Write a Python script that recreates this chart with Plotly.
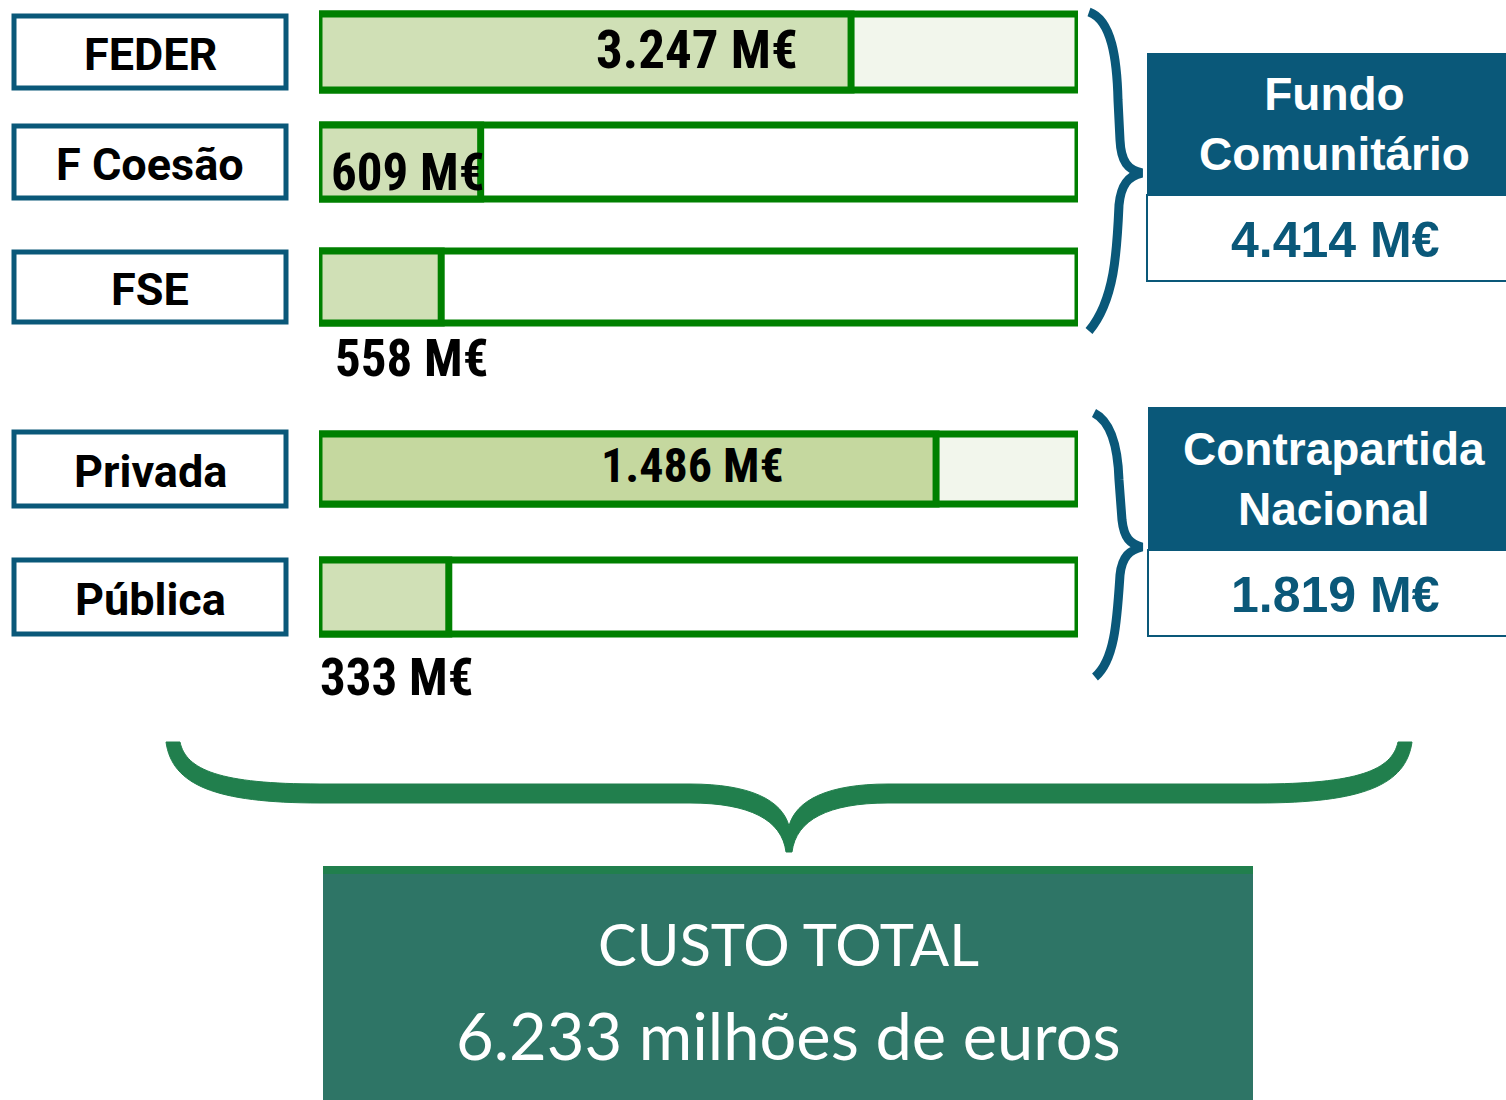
import plotly.graph_objects as go

# ---------------- data ----------------
categories = ["FEDER", "F Coesão", "FSE", "Privada", "Pública"]
values_meur = [3247, 609, 558, 1486, 333]
value_labels = ["3.247 M€", "609 M€", "558 M€", "1.486 M€", "333 M€"]
# share of each bar drawn as filled (%)
fill_share_pct = [70.1, 21.3, 16.1, 81.3, 17.1]
group_names = ["Fundo<br>Comunitário", "Contrapartida<br>Nacional"]
group_totals = ["4.414 M€", "1.819 M€"]
total_title = "CUSTO TOTAL"
total_text = "6.233 milhões de euros"

# ---------------- styles / layout constants ----------------
W, H = 1506, 1100
BLUE = "#0a5879"
GREEN = "#008000"
DKGREEN = "#217f4d"
TEAL = "#2e7566"
row_y = [52, 162, 287, 469, 597]
row_h = [76, 74, 72, 70, 74]
bar_bg = ["#f2f6ec", "#ffffff", "#ffffff", "#f2f6ec", "#ffffff"]
bar_fill = ["#d0e0b6", "#d0e0b6", "#d0e0b6", "#c5d89f", "#d0e0b6"]
BAR_X0, BAR_X1 = 319, 1078

fig = go.Figure()
fig.add_trace(go.Scatter(x=[], y=[], xaxis="x", yaxis="y", showlegend=False))

# background (full) bars
fig.add_trace(go.Bar(
    y=row_y, x=[100] * len(categories), width=row_h, orientation="h",
    xaxis="x2", yaxis="y",
    marker=dict(color=bar_bg, line=dict(color=GREEN, width=7)),
    hoverinfo="skip", showlegend=False))
# filled portion
fig.add_trace(go.Bar(
    y=row_y, x=fill_share_pct, width=row_h, orientation="h",
    xaxis="x2", yaxis="y", customdata=values_meur,
    marker=dict(color=bar_fill, line=dict(color=GREEN, width=7)),
    hovertemplate="%{customdata} M€<extra></extra>", showlegend=False))

shapes = []
ann = []

# left label boxes
for cat, yc, h in zip(categories, row_y, [76, 76, 74, 78, 78]):
    shapes.append(dict(type="rect", xref="x", yref="y", x0=14, x1=286,
                       y0=yc - h / 2 + 2, y1=yc + h / 2 - 2,
                       line=dict(color=BLUE, width=5), fillcolor="white"))
    ann.append(dict(x=150, y=yc + 2, xref="x", yref="y", text=f"<b>{cat}</b>",
                    showarrow=False, font=dict(family="Roboto", size=45, color="black"),
                    xanchor="center", yanchor="middle"))

# value labels
val_sizes = [53, 51, 51, 48, 51]
label_pos = [(697, 50, "center"), (329, 172, "left"), (333, 358, "left"),
             (692, 465, "center"), (318, 677, "left")]
for txt, sz, (lx, ly, anc) in zip(value_labels, val_sizes, label_pos):
    ann.append(dict(x=lx, y=ly, xref="x", yref="y", text=f"<b>{txt}</b>", showarrow=False,
                    font=dict(family="Liberation Sans Narrow, Roboto Condensed, Roboto",
                              size=sz, color="black"),
                    xanchor=anc, yanchor="middle"))

# right group boxes
grp_boxes = [(1147, 53, 195, 281), (1148, 407, 550, 636)]
for name, tot, (gx0, gy0, gy1, gy2) in zip(group_names, group_totals, grp_boxes):
    shapes.append(dict(type="rect", xref="x", yref="y", x0=gx0, x1=W + 5, y0=gy1, y1=gy2,
                       line=dict(color=BLUE, width=2), fillcolor="white"))
    shapes.append(dict(type="rect", xref="x", yref="y", x0=gx0, x1=W + 5, y0=gy0, y1=gy1,
                       line=dict(width=0), fillcolor=BLUE))
    ann.append(dict(x=1334, y=(gy0 + gy1) / 2, xref="x", yref="y", text=f"<b>{name}</b>",
                    showarrow=False, font=dict(family="Liberation Sans", size=46, color="white"),
                    xanchor="center", yanchor="middle"))
    ann.append(dict(x=1335, y=(gy1 + gy2) / 2 + 2, xref="x", yref="y", text=f"<b>{tot}</b>",
                    showarrow=False, font=dict(family="Liberation Sans", size=50, color=BLUE),
                    xanchor="center", yanchor="middle"))

# blue braces
brace1 = ("M 1089,12 C 1112,20 1117,60 1118,100 L 1120,140 C 1121,162 1128,170 1142,173 "
          "C 1128,176 1121,185 1119,205 C 1117,250 1115,300 1089,331")
brace2 = ("M 1094,413 C 1112,422 1118,450 1119,480 L 1122,520 C 1124,538 1130,544 1142,547 "
          "C 1130,550 1122,556 1120,575 C 1117,620 1115,660 1095,677")
for p in (brace1, brace2):
    shapes.append(dict(type="path", xref="x", yref="y", path=p,
                       line=dict(color=BLUE, width=9)))

# bottom green brace (filled, tapered)
bottom = ("M 166,742 C 172,785 215,803 320,803 L 690,803 C 750,803 782,820 786,852 "
          "L 792,852 C 796,820 828,803 888,803 L 1258,803 C 1363,803 1406,785 1412,742 "
          "L 1398,742 C 1392,770 1358,784 1258,784 L 888,784 C 828,784 796,800 789,826 "
          "C 782,800 750,784 690,784 L 320,784 C 220,784 186,770 180,742 Z")
shapes.append(dict(type="path", xref="x", yref="y", path=bottom,
                   line=dict(color=DKGREEN, width=1), fillcolor=DKGREEN))

# total box
shapes.append(dict(type="rect", xref="x", yref="y", x0=323, x1=1253, y0=867, y1=H + 5,
                   line=dict(width=0), fillcolor=TEAL))
shapes.append(dict(type="rect", xref="x", yref="y", x0=323, x1=1253, y0=866, y1=874,
                   line=dict(width=0), fillcolor=DKGREEN))
ann.append(dict(x=788, y=943, xref="x", yref="y", text=total_title, showarrow=False,
                font=dict(family="Lato", size=58, color="white"), xanchor="center", yanchor="middle"))
ann.append(dict(x=788, y=1035, xref="x", yref="y", text=total_text, showarrow=False,
                font=dict(family="Lato", size=65, color="white"), xanchor="center", yanchor="middle"))

fig.update_layout(
    width=W, height=H, margin=dict(l=0, r=0, t=0, b=0),
    paper_bgcolor="white", plot_bgcolor="white",
    barmode="overlay", showlegend=False,
    xaxis=dict(range=[0, W], visible=False, fixedrange=True),
    yaxis=dict(range=[H, 0], visible=False, fixedrange=True),
    xaxis2=dict(domain=[BAR_X0 / W, BAR_X1 / W], range=[0, 100], anchor="y", visible=False),
    shapes=shapes, annotations=ann,
)
fig.write_html("out.html", config={"displayModeBar": False},
               post_script="document.body.style.margin='0';document.body.style.overflow='hidden';")
